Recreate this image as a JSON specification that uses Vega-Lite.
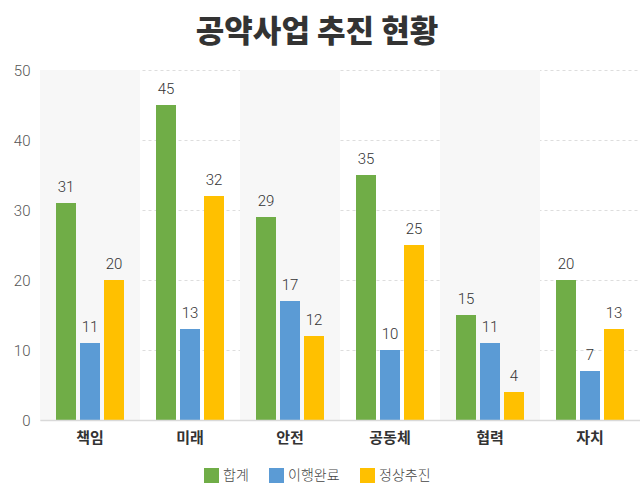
{
  "$schema": "https://vega.github.io/schema/vega-lite/v6.json",
  "autosize": "none",
  "width": 600,
  "height": 350,
  "padding": {"left": 40, "top": 70, "right": 0, "bottom": 80},
  "background": "white",
  "config": {
    "font": "Noto Sans CJK KR",
    "view": {"stroke": null}
  },
  "title": {
    "text": "공약사업 추진 현황",
    "fontSize": 31,
    "fontWeight": 900,
    "color": "#333333",
    "anchor": "middle",
    "offset": 14,
    "dx": -23,
    "font": "Noto Sans CJK KR"
  },
  "datasets": {
    "bars": [
      {"category": "책임", "series": "합계", "value": 31},
      {"category": "책임", "series": "이행완료", "value": 11},
      {"category": "책임", "series": "정상추진", "value": 20},
      {"category": "미래", "series": "합계", "value": 45},
      {"category": "미래", "series": "이행완료", "value": 13},
      {"category": "미래", "series": "정상추진", "value": 32},
      {"category": "안전", "series": "합계", "value": 29},
      {"category": "안전", "series": "이행완료", "value": 17},
      {"category": "안전", "series": "정상추진", "value": 12},
      {"category": "공동체", "series": "합계", "value": 35},
      {"category": "공동체", "series": "이행완료", "value": 10},
      {"category": "공동체", "series": "정상추진", "value": 25},
      {"category": "협력", "series": "합계", "value": 15},
      {"category": "협력", "series": "이행완료", "value": 11},
      {"category": "협력", "series": "정상추진", "value": 4},
      {"category": "자치", "series": "합계", "value": 20},
      {"category": "자치", "series": "이행완료", "value": 7},
      {"category": "자치", "series": "정상추진", "value": 13}
    ],
    "bands": [
      {"category": "책임"},
      {"category": "안전"},
      {"category": "협력"}
    ]
  },
  "encoding": {
    "x": {
      "field": "category",
      "type": "nominal",
      "sort": ["책임", "미래", "안전", "공동체", "협력", "자치"],
      "scale": {"paddingInner": 0, "paddingOuter": 0},
      "axis": {
        "title": null,
        "labelAngle": 0,
        "labelFontSize": 15,
        "labelFontWeight": "bold",
        "labelColor": "#333333",
        "labelPadding": 10,
        "ticks": false,
        "domainColor": "#d9d9d9",
        "domainWidth": 1.5,
        "grid": false
      }
    }
  },
  "layer": [
    {
      "data": {"name": "bands"},
      "mark": {"type": "rect", "color": "#f7f7f7"},
      "encoding": {
        "y": {"datum": 50, "type": "quantitative"},
        "y2": {"datum": 0}
      }
    },
    {
      "data": {"name": "bars"},
      "mark": {"type": "bar"},
      "encoding": {
        "xOffset": {
          "field": "series",
          "type": "nominal",
          "sort": ["합계", "이행완료", "정상추진"],
          "scale": {"paddingInner": 0.1667, "paddingOuter": 0.667}
        },
        "y": {
          "field": "value",
          "type": "quantitative",
          "scale": {"domain": [0, 50]},
          "axis": {
            "title": null,
            "values": [0, 10, 20, 30, 40, 50],
            "labelFont": "Roboto",
            "labelFontSize": 15,
            "labelColor": "#555555",
            "labelPadding": 10,
            "labelFontWeight": 300,
            "ticks": false,
            "domain": false,
            "grid": true,
            "gridColor": "#dddddd",
            "gridDash": [3, 3]
          }
        },
        "color": {
          "field": "series",
          "type": "nominal",
          "sort": ["합계", "이행완료", "정상추진"],
          "scale": {
            "domain": ["합계", "이행완료", "정상추진"],
            "range": ["#70AD47", "#5B9BD5", "#FFC000"]
          },
          "legend": {
            "title": null,
            "orient": "none",
            "legendX": 164,
            "legendY": 398,
            "direction": "horizontal",
            "symbolType": "square",
            "symbolSize": 225,
            "symbolStrokeWidth": 0,
            "symbolOpacity": 1,
            "labelFontSize": 14,
            "labelFontWeight": 300,
            "labelColor": "#444444",
            "columnPadding": 20
          }
        }
      }
    },
    {
      "data": {"name": "bars"},
      "mark": {"type": "text", "baseline": "bottom", "dy": -8, "fontSize": 15, "font": "Roboto", "fontWeight": 300, "color": "#333333"},
      "encoding": {
        "xOffset": {
          "field": "series",
          "type": "nominal",
          "sort": ["합계", "이행완료", "정상추진"],
          "scale": {"paddingInner": 0.1667, "paddingOuter": 0.667}
        },
        "y": {"field": "value", "type": "quantitative"},
        "text": {"field": "value", "type": "quantitative"}
      }
    }
  ]
}
